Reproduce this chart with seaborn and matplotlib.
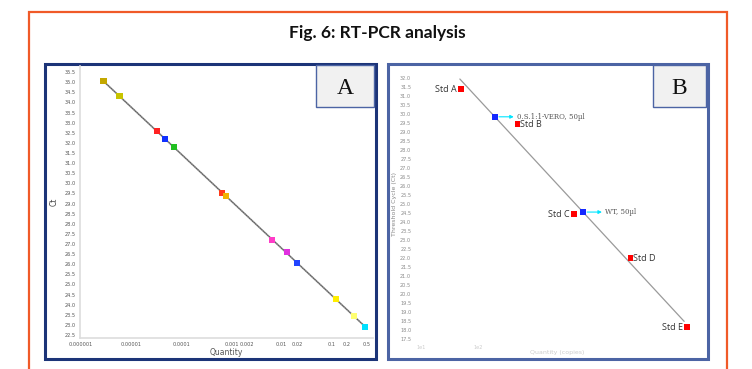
import numpy as np
import pandas as pd
import matplotlib
matplotlib.use("Agg")
import matplotlib.pyplot as plt
import seaborn as sns
from matplotlib.patches import Rectangle
from matplotlib.ticker import FixedLocator, NullLocator

sns.set_theme(style="white")
plt.rcParams['font.family'] = ['DejaVu Sans']

# Panel A - standard curve, all samples
a_quantity = [2.8e-6, 5.8e-6, 3.2e-5, 4.7e-5, 7.1e-5, 6.5e-4, 7.8e-4,
              6.3e-3, 1.26e-2, 2.0e-2, 0.12, 0.275, 0.46]
a_ct = [35.06, 34.31, 32.58, 32.19, 31.79, 29.52, 29.37,
        27.2, 26.6, 26.06, 24.28, 23.44, 22.9]
a_colors = ['#c4a800', '#c8c400', '#ff2222', '#1030ff', '#22c022', '#ff3a1a', '#f0b400',
            '#ff3cc8', '#e030e0', '#2244ff', '#ffee00', '#ffff70', '#00e0ff']
a_xticks = [1e-6, 1e-5, 1e-4, 1e-3, 2e-3, 1e-2, 2e-2, 0.1, 0.2, 0.5]
a_xticklabels = ['0.000001', '0.00001', '0.0001', '0.001', '0.002',
                 '0.01', '0.02', '0.1', '0.2', '0.5']

# Panel B - standards (log10 copies) and samples
std_names = ['Std A', 'Std B', 'Std C', 'Std D', 'Std E']
std_logq = [1, 2, 3, 4, 5]
std_ct = [31.4, 29.44, 24.44, 22.0, 18.17]
sample_names = ['0.S.1:1-VERO, 50µl', 'WT, 50µl']
sample_ct = [29.84, 24.55]

W, H = 752, 369
fig = plt.figure(figsize=(W / 100, H / 100), dpi=100)


def box(x0, y0, x1, y1):
    # pixel box -> figure fraction rect
    return [x0 / W, 1 - y1 / H, (x1 - x0) / W, (y1 - y0) / H]


# orange outer frame
fig.patches.append(Rectangle((29 / W, -0.05), (727 - 29) / W, 1.05 - 12 / H,
                             transform=fig.transFigure, fill=False,
                             edgecolor='#f05a28', linewidth=1.6, zorder=-2))
fig.text(377 / W, 1 - 33 / H, 'Fig. 6: RT-PCR analysis', ha='center', va='center',
         fontsize=12.5, fontweight='bold', family=['Lato', 'DejaVu Sans'], color='#111111')

# panel frames
for (x0, x1), col in [((45, 376), '#1c3478'), ((388, 708), '#4c64a4')]:
    fig.patches.append(Rectangle((x0 / W, 1 - 359 / H), (x1 - x0) / W, (359 - 64) / H,
                                 transform=fig.transFigure, facecolor='white',
                                 edgecolor=col, linewidth=2.2, zorder=-1))

# ---- Panel A ----
axA = fig.add_axes(box(80, 66, 373, 338))
axA.set_facecolor('none')
axA.set_xscale('log')
axA.set_xlim(9.5e-7, 0.66)
axA.set_ylim(22.35, 35.8)

coef = np.polyfit(np.log10(a_quantity), a_ct, 1)
xs = np.logspace(np.log10(min(a_quantity)), np.log10(max(a_quantity)), 50)
axA.plot(xs, np.polyval(coef, np.log10(xs)), color='#8a8a8a', lw=1.2, zorder=2)
axA.plot(xs, np.polyval(coef, np.log10(xs)), color='#333333', lw=0.5, ls=(0, (1, 2)), zorder=2)

dfA = pd.DataFrame({'q': a_quantity, 'ct': a_ct, 'id': range(len(a_ct))})
sns.scatterplot(data=dfA, x='q', y='ct', hue='id', palette=a_colors, marker='s', s=20,
                edgecolor='none', legend=False, ax=axA, zorder=3)

axA.yaxis.set_major_locator(FixedLocator(np.arange(22.5, 35.6, 0.5)))
axA.set_yticklabels([f'{v:.1f}' for v in np.arange(22.5, 35.6, 0.5)])
axA.xaxis.set_major_locator(FixedLocator(a_xticks))
axA.xaxis.set_minor_locator(NullLocator())
axA.set_xticklabels(a_xticklabels)
axA.tick_params(axis='both', labelsize=3.6, colors='#555555', length=1.5, width=0.5, pad=1.5)
for s in ['top', 'right']:
    axA.spines[s].set_visible(False)
for s in ['left', 'bottom']:
    axA.spines[s].set_color('#dddddd')
    axA.spines[s].set_linewidth(1.2)
axA.set_xlabel('Quantity', fontsize=5.5, color='#555555', labelpad=0.5)
axA.set_ylabel('Ct', fontsize=5.5, color='#444444', labelpad=4)

# ---- Panel B ----
axB = fig.add_axes(box(415, 68, 700, 341))
axB.set_facecolor('none')
axB.set_xlim(0.186, 5.23)
axB.set_ylim(17.39, 32.55)

fitB = np.polyfit(std_logq, std_ct, 1)
xb = np.array([min(std_logq) - 0.02, max(std_logq) - 0.05])
axB.plot(xb, np.polyval(fitB, xb), color='#9a9a9a', lw=0.9, zorder=2)

sample_logq = [(c - fitB[1]) / fitB[0] for c in sample_ct]

dfS = pd.DataFrame({'q': std_logq, 'ct': std_ct, 'name': std_names})
sns.scatterplot(data=dfS, x='q', y='ct', color='#ff0000', marker='s', s=18,
                edgecolor='none', legend=False, ax=axB, zorder=3)
dfU = pd.DataFrame({'q': sample_logq, 'ct': sample_ct})
sns.scatterplot(data=dfU, x='q', y='ct', color='#1428ff', marker='s', s=20,
                edgecolor='none', legend=False, ax=axB, zorder=3)

for name, q, c in zip(std_names, std_logq, std_ct):
    left = name in ('Std A', 'Std C', 'Std E')
    axB.annotate(name, (q, c), xytext=(-3 if left else 2, -0.5), textcoords='offset points',
                 ha='right' if left else 'left', va='center', fontsize=6.5, color='#333333',
                 family=['Open Sans', 'DejaVu Sans'])

for name, q, c in zip(sample_names, sample_logq, sample_ct):
    axB.annotate(name, (q, c), xytext=(16, 0), textcoords='offset points', ha='left',
                 va='center', fontsize=5, color='#555555', family=['DejaVu Serif'],
                 arrowprops=dict(arrowstyle='<|-', color='#00e5ff', lw=0.8,
                                 mutation_scale=5, shrinkA=0, shrinkB=3))

axB.yaxis.set_major_locator(FixedLocator(np.arange(17.5, 32.1, 0.5)))
axB.set_yticklabels([f'{v:.1f}' for v in np.arange(17.5, 32.1, 0.5)])
axB.xaxis.set_major_locator(FixedLocator([0.3, 1.3]))
axB.set_xticklabels(['1e1', '1e2'])
axB.tick_params(axis='both', labelsize=3.6, colors='#8a8a8a', length=1.2, width=0.4, pad=1.5)
axB.tick_params(axis='x', colors='#cccccc')
for s in axB.spines.values():
    s.set_visible(False)
axB.set_xlabel('Quantity (copies)', fontsize=4.5, color='#cccccc', labelpad=0)
axB.set_ylabel('Threshold Cycle (Ct)', fontsize=4.5, color='#888888', labelpad=2)

# letter boxes
for (x0, x1), letter in [((316, 374), 'A'), ((653, 706), 'B')]:
    fig.patches.append(Rectangle((x0 / W, 1 - 107 / H), (x1 - x0) / W, (107 - 65) / H,
                                 transform=fig.transFigure, facecolor='#f1f1f1',
                                 edgecolor='#4c64a4', linewidth=1.0, zorder=5))
    fig.text((x0 + x1) / 2 / W, 1 - 88 / H, letter, ha='center', va='center',
             fontsize=17, family=['Liberation Serif', 'DejaVu Serif'], color='#111111', zorder=6)

fig.savefig('out.png', dpi=100)
